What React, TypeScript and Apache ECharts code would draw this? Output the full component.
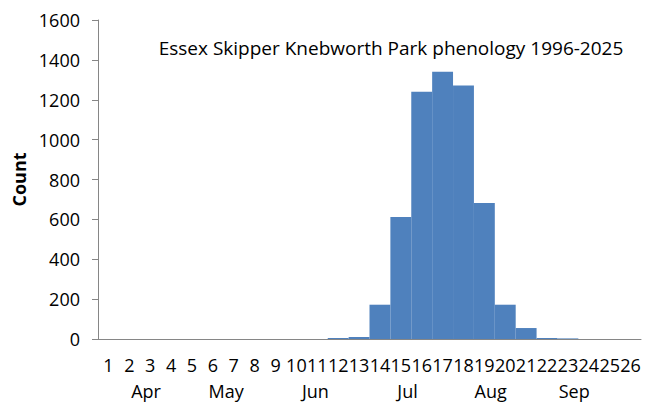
import React, { useEffect, useRef } from "react";
import * as echarts from "echarts";

// Week numbers from 1 April onwards
const weeks: string[] = Array.from({ length: 26 }, (_, i) => String(i + 1));

// Summed counts per week, 1996-2025
const counts: number[] = [
  0, 0, 0, 0, 0, 0, 0, 0, 0, 0, 0, 5, 10, 172, 612, 1240, 1340, 1272, 682, 172, 55, 5, 3, 0, 0, 0,
];

// Month labels and their centre along the week axis (in week widths from the left edge)
const months: string[] = ["Apr", "May", "Jun", "Jul", "Aug", "Sep"];
const monthCentres: number[] = [2.3, 6.14, 10.41, 14.82, 18.8, 22.8];

const yTicks = { min: 0, max: 1600, interval: 200 };

const FONT = "'Open Sans', Lato, sans-serif";

export default function App() {
  const ref = useRef<HTMLDivElement>(null);

  useEffect(() => {
    if (!ref.current) return;
    const chart = echarts.init(ref.current, undefined, { renderer: "svg" });

    const gridLeft = 98;
    const gridRight = 13;
    const width = 654;
    const catW = (width - gridLeft - gridRight) / weeks.length;

    chart.setOption({
      animation: false,
      backgroundColor: "#ffffff",
      textStyle: { fontFamily: FONT },
      title: {
        text: "Essex Skipper Knebworth Park phenology 1996-2025",
        left: 386,
        top: 33,
        textAlign: "center",
        textStyle: { fontFamily: FONT, fontSize: 19, fontWeight: "normal", color: "#000" },
      },
      grid: { left: gridLeft, right: gridRight, top: 20, bottom: 75, containLabel: false },
      xAxis: {
        type: "category",
        data: weeks,
        axisLine: { show: true, lineStyle: { color: "#868686", width: 1 } },
        axisTick: { show: false },
        axisLabel: {
          interval: 0,
          margin: 17,
          fontSize: 18,
          color: "#000",
          fontFamily: FONT,
        },
      },
      yAxis: {
        type: "value",
        min: yTicks.min,
        max: yTicks.max,
        interval: yTicks.interval,
        name: "Count",
        nameLocation: "middle",
        nameGap: 70,
        nameTextStyle: { fontFamily: FONT, fontSize: 18, fontWeight: "bold", color: "#000" },
        axisLine: { show: true, lineStyle: { color: "#868686", width: 1 } },
        axisTick: { show: true, inside: false, length: 6, lineStyle: { color: "#868686" } },
        splitLine: { show: false },
        axisLabel: {
          fontSize: 18,
          color: "#000",
          margin: 18,
          fontFamily: FONT,
          formatter: (v: number) => String(v),
        },
      },
      series: [
        {
          type: "bar",
          data: counts,
          barCategoryGap: "0%",
          itemStyle: { color: "#4F81BD" },
        },
      ],
      graphic: months.map((m, i) => ({
        type: "text",
        x: gridLeft + monthCentres[i] * catW,
        y: 391,
        style: {
          text: m,
          fontSize: 18,
          fontFamily: FONT,
          fill: "#000",
          align: "center",
          verticalAlign: "middle",
        },
      })),
    });

    return () => chart.dispose();
  }, []);

  return <div ref={ref} style={{ width: 654, height: 414, position: "fixed", left: 0, top: 0 }} />;
}
